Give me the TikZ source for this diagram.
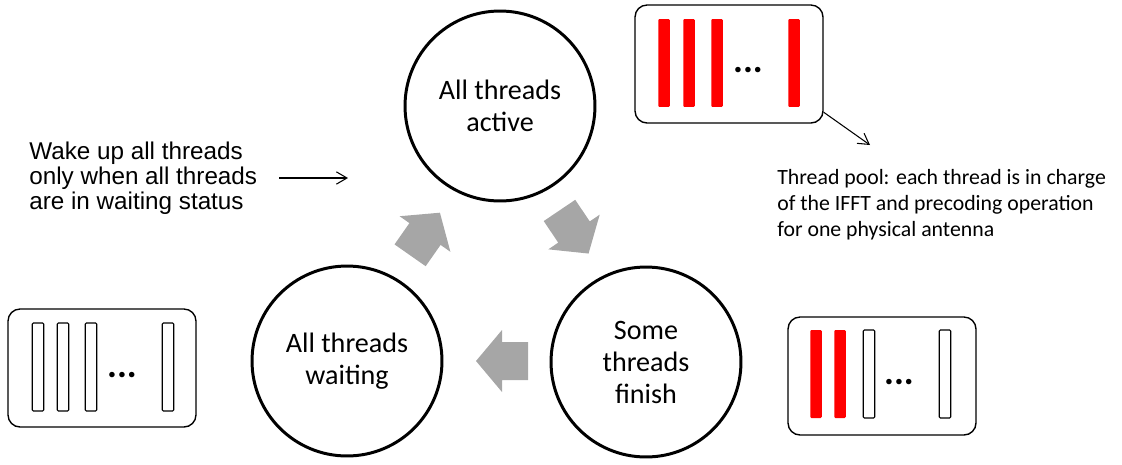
\documentclass[tikz,border=0pt]{standalone}
\usepackage{fontspec}
\setmainfont{Carlito}
\newfontfamily\arialfont{Liberation Sans}
\usetikzlibrary{arrows.meta}
\definecolor{PoolRed}{RGB}{255,0,0}
\definecolor{CycleGray}{RGB}{166,166,166}

\begin{document}
\begin{tikzpicture}[x=0.02cm,y=-0.02cm,
        state/.style={circle,draw=black,line width=1.7pt,minimum size=3.8cm,
                      inner sep=0pt,align=center,font=\fontsize{16}{18.2}\selectfont},
        pool/.style={draw=black,line width=0.8pt,rounded corners=0.24cm,
                     minimum width=3.76cm,minimum height=2.36cm,inner sep=0pt},
        redbar/.style={fill=PoolRed,rounded corners=0.6pt,inner sep=0pt,
                       minimum width=0.23cm,minimum height=1.76cm},
        idlebar/.style={redbar,fill=none,draw=black,line width=0.6pt},
        dots/.style={font=\fontsize{21}{21}\selectfont\bfseries,inner sep=0pt},
        note/.style={align=left,font=\fontsize{12.4}{14.8}\selectfont,inner sep=0pt},
        thinarr/.style={-{Straight Barb[length=6pt,width=7pt]},line width=0.6pt},
        cyc/.pic={\fill[CycleGray] (26,0) -- (0,31) -- (0,19) -- (-26,19)
                  -- (-26,-19) -- (0,-19) -- (0,-31) -- cycle;}
      ]
        \useasboundingbox (0,0) rectangle (1122,464);
        % the three states
        \node[state] (active) at (500,106) {All threads\\active};
        \node[state] (finish) at (646,362) {Some\\threads\\finish};
        \node[state] (waiting) at (347,361) {All threads\\waiting};
        % cycle arrows
        \pic[rotate=55] (up) at (425,234) {cyc};
        \pic[rotate=-56] (down) at (574,232) {cyc};
        \pic[rotate=180] (back) at (502,361) {cyc};
        % thread pool, all busy
        \node[pool] (poolA) at (729,64) {};
        \foreach \x [count=\i] in {664,689,717,794}
          \node[redbar] (busy\i) at (\x,63) {};
        \node[dots] (dotsA) at (748,70) {...};
        % thread pool, some done
        \node[pool] (poolB) at (882,376) {};
        \foreach \x [count=\i] in {816,840}
          \node[redbar] (part\i) at (\x,374) {};
        \foreach \x [count=\i] in {869,945}
          \node[idlebar] (free\i) at (\x,374) {};
        \node[dots] (dotsB) at (899,382) {...};
        % thread pool, all waiting
        \node[pool] (poolC) at (102,368) {};
        \foreach \x [count=\i] in {38,63,91,168}
          \node[idlebar] (idle\i) at (\x,367) {};
        \node[dots] (dotsC) at (122,375) {...};
        % notes
        \node[note,font=\arialfont\fontsize{13.8}{14.2}\selectfont,anchor=west] (wake) at (29,178)
          {Wake up all threads\\only when all threads\\are in waiting status};
        \coordinate (wakeend) at (348,178);
        \draw[thinarr,shorten <=0.44cm] (wake.east) -- (wakeend);
        \node[note,anchor=north west] (poolnote) at (777,169)
          {Thread pool: each thread is in charge\\of the IFFT and precoding operation\\for one physical antenna};
        \coordinate (poolend) at (870,145);
        \draw[thinarr] (poolA.-27) -- (poolend);
      \end{tikzpicture}
\end{document}
